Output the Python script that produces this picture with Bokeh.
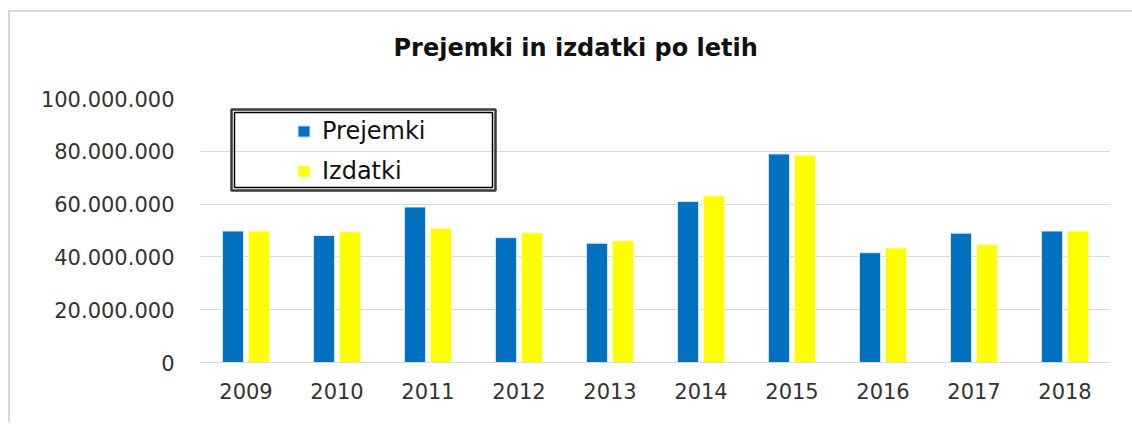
from bokeh.plotting import figure
from bokeh.models import (ColumnDataSource, FactorRange, FixedTicker, Legend, LegendItem,
                          BoxAnnotation, Title)
from bokeh.transform import dodge
from bokeh.embed import file_html
from bokeh.resources import INLINE

# ---- data ----
years = ["2009", "2010", "2011", "2012", "2013", "2014", "2015", "2016", "2017", "2018"]
prejemki = [49.8e6, 48.1e6, 58.9e6, 47.3e6, 45.2e6, 61.0e6, 79.0e6, 41.6e6, 49.0e6, 49.8e6]
izdatki = [49.8e6, 49.5e6, 50.8e6, 49.1e6, 46.1e6, 63.1e6, 78.5e6, 43.4e6, 44.6e6, 49.8e6]
y_ticks = [0, 20e6, 40e6, 60e6, 80e6, 100e6]
y_tick_labels = ["0", "20.000.000", "40.000.000", "60.000.000", "80.000.000", "100.000.000"]
series_names = ["Prejemki", "Izdatki"]
title_text = "Prejemki in izdatki po letih"

FONT = "DejaVu Sans"
BLUE = "#0070C0"
YELLOW = "#FFFF00"
GRID = "#d9d9d9"

# page offset of the chart (outer frame drawn with CSS border)
OX, OY = 10, 12
W = 1132 - OX
H = 424 - OY - 2

source = ColumnDataSource(dict(year=years, prejemki=prejemki, izdatki=izdatki))

p = figure(width=W, height=H, x_range=FactorRange(*years), y_range=(0, 100e6),
           output_backend="svg", toolbar_location=None, title=None,
           min_border_left=200 - OX, min_border_right=W - (1108 - OX), min_border_top=0,
           min_border_bottom=H - (360 - OY))
p.styles = {"margin-left": f"{OX - 2}px", "margin-top": f"{OY - 2}px",
            "border-left": f"2px solid {GRID}", "border-top": f"2px solid {GRID}",
            "box-sizing": "content-box", "overflow": "hidden"}
p.outline_line_color = None
p.background_fill_color = "white"
p.border_fill_color = "white"

r1 = p.vbar(x=dodge("year", -0.143, range=p.x_range), top="prejemki", width=0.232,
            source=source, fill_color=BLUE, line_color="#dbe8f5", line_width=1)
r2 = p.vbar(x=dodge("year", 0.143, range=p.x_range), top="izdatki", width=0.232,
            source=source, fill_color=YELLOW, line_color="#ffffc0", line_width=1)

# spacer between frame and title, then the title itself (outermost)
spacer = Title(text=" ", text_font_size="2px", standoff=14)
p.add_layout(spacer, "above")
main_title = Title(text=title_text, text_font=FONT, text_font_style="bold",
                   text_font_size="24px", text_color="#111111",
                   align="left", offset=193, standoff=38)
p.add_layout(main_title, "above")

# axes
p.yaxis.ticker = FixedTicker(ticks=y_ticks)
p.yaxis.major_label_overrides = {t: l for t, l in zip(y_ticks, y_tick_labels)}
p.yaxis.axis_line_color = None
p.yaxis.major_tick_line_color = None
p.yaxis.major_tick_out = 0
p.yaxis.major_tick_in = 0
p.yaxis.minor_tick_line_color = None
p.yaxis.major_label_text_font = FONT
p.yaxis.major_label_text_font_size = "21px"
p.yaxis.major_label_text_color = "#333333"
p.yaxis.major_label_standoff = 26

p.xaxis.axis_line_color = GRID
p.xaxis.major_tick_line_color = None
p.xaxis.major_tick_out = 0
p.xaxis.major_tick_in = 0
p.xaxis.minor_tick_line_color = None
p.xaxis.major_label_text_font = FONT
p.xaxis.major_label_text_font_size = "21px"
p.xaxis.major_label_text_color = "#333333"
p.xaxis.major_label_standoff = 20

p.xgrid.grid_line_color = None
p.ygrid.grid_line_color = GRID
p.ygrid.grid_line_width = 1
p.ygrid.ticker = FixedTicker(ticks=y_ticks)

# legend (items only; frame drawn with boxes)
legend = Legend(items=[LegendItem(label=series_names[0], renderers=[r1]),
                       LegendItem(label=series_names[1], renderers=[r2])],
                location=(96, 177), orientation="vertical")
legend.border_line_color = None
legend.background_fill_alpha = 0
legend.padding = 0
legend.margin = 0
legend.spacing = 11
legend.glyph_width = 15
legend.glyph_height = 14
legend.label_height = 29
legend.label_standoff = 11
legend.label_text_font = FONT
legend.label_text_font_size = "24px"
legend.label_text_color = "#111111"
p.add_layout(legend, "center")

outer = BoxAnnotation(left=229 - OX, right=493 - OX, top=107 - OY, bottom=188 - OY,
                      left_units="canvas", right_units="canvas",
                      top_units="canvas", bottom_units="canvas",
                      fill_color=None, fill_alpha=0, line_color="#3a3a3a",
                      line_alpha=1, line_width=2.5)
inner = BoxAnnotation(left=232 - OX, right=490 - OX, top=110 - OY, bottom=185 - OY,
                      left_units="canvas", right_units="canvas",
                      top_units="canvas", bottom_units="canvas",
                      fill_color=None, fill_alpha=0, line_color="#000000",
                      line_alpha=1, line_width=1.5)
p.add_layout(outer)
p.add_layout(inner)

open("out.html", "w").write(file_html(p, INLINE))
